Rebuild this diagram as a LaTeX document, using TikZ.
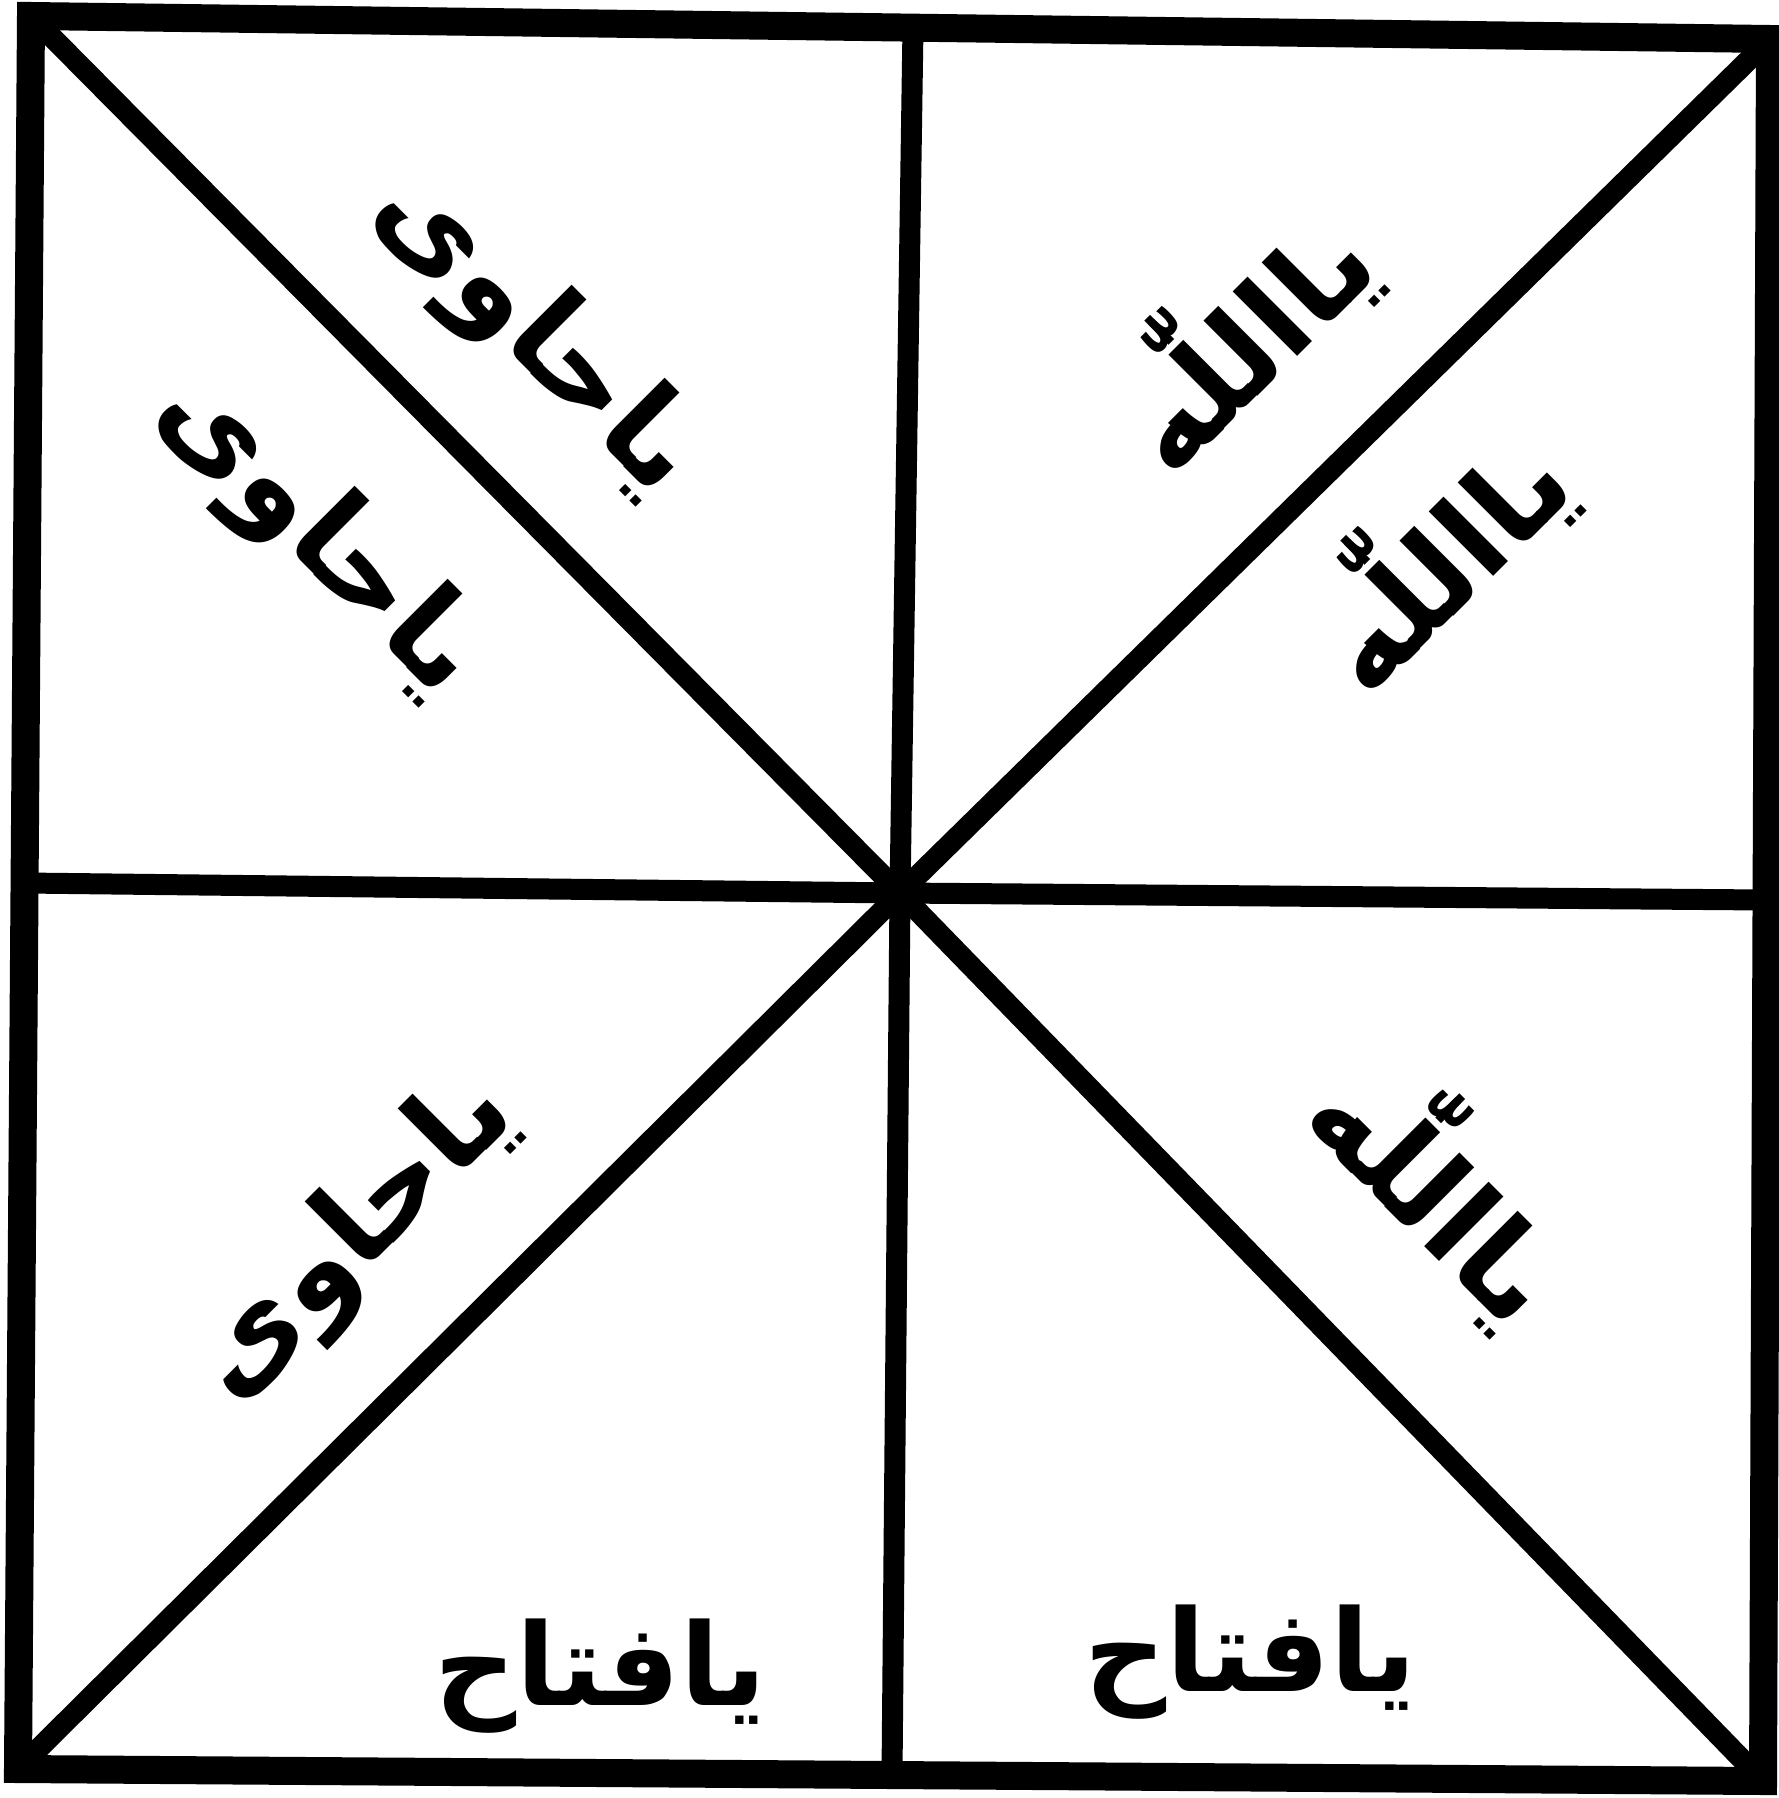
\documentclass[tikz,border=0pt]{standalone}
\usepackage{fontspec}
\newfontfamily\arabicfont[Script=Arabic]{DejaVu Sans}
\TeXXeTstate=1
\tikzset{
  outerline/.style={line width=14pt, line join=miter, black},
  innerline/.style={line width=10.5pt, line cap=butt, line join=miter, black},
  diaglabel/.style={inner sep=0pt, font=\arabicfont\bfseries\fontsize{60}{72}\selectfont},
  flatlabel/.style={inner sep=0pt, font=\arabicfont\bfseries\fontsize{57}{68}\selectfont}
}
\begin{document}
\begin{tikzpicture}[x=0.5pt,y=-0.5pt]
\useasboundingbox (0,0) rectangle (1778,1798);
\fill[white] (0,0) rectangle (1778,1798);
\coordinate (TL) at (31,16);
\coordinate (TR) at (1770,39);
\coordinate (BR) at (1763,1781);
\coordinate (BL) at (18,1769);
\coordinate (C) at (900,893);
\coordinate (T) at (913,27);
\coordinate (B) at (892,1775);
\coordinate (L) at (25,883);
\coordinate (R) at (1766,900);
\draw[innerline] (T) -- (C) -- (B);
\draw[innerline] (L) -- (C) -- (R);
\draw[innerline] (TL) -- (C) -- (BR);
\draw[innerline] (TR) -- (C) -- (BL);
\draw[outerline] (TL) -- (TR) -- (BR) -- (BL) -- cycle;
\node[diaglabel, rotate=-45] (t1) at (535,334) {\beginR ياحاوى\endR};
\node[diaglabel, rotate=-45] (t2) at (318,535) {\beginR ياحاوى\endR};
\node[diaglabel, rotate=45] (t3) at (1238,336) {\beginR يااللّٰه\endR};
\node[diaglabel, rotate=45] (t4) at (1434,556) {\beginR يااللّٰه\endR};
\node[diaglabel, rotate=45] (t5) at (354,1239) {\beginR ياحاوى\endR};
\node[diaglabel, rotate=-45] (t6) at (1445,1187) {\beginR يااللّٰه\endR};
\node[flatlabel] (t7) at (600,1676) {\beginR يافتاح\endR};
\node[flatlabel] (t8) at (1250,1662) {\beginR يافتاح\endR};
\end{tikzpicture}
\end{document}
